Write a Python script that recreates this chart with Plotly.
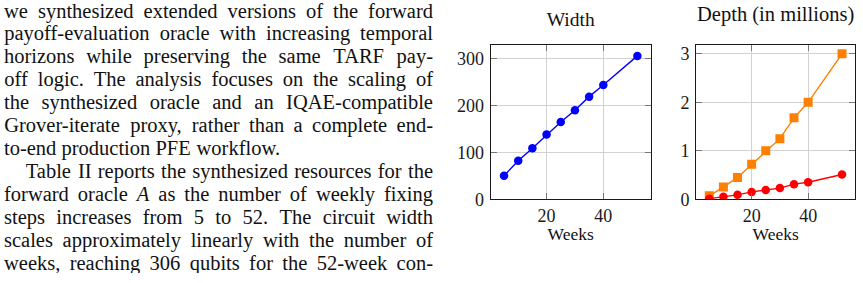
import plotly.graph_objects as go

# ---------------- data ----------------
weeks = [5, 10, 15, 20, 25, 30, 35, 40, 52]
width_qubits = [50, 82, 109, 138, 165, 190, 219, 244, 306]
depth_grover = [0.07, 0.25, 0.45, 0.72, 1.0, 1.25, 1.68, 2.0, 3.0]
depth_oracle = [0.01, 0.05, 0.09, 0.15, 0.19, 0.23, 0.31, 0.35, 0.51]
x_ticks = [20, 40]
width_ticks = [0, 100, 200, 300]
depth_ticks = [0, 1, 2, 3]

text_lines = [
    "we synthesized extended versions of the forward",
    "payoff-evaluation oracle with increasing temporal",
    "horizons while preserving the same TARF pay-",
    "off logic. The analysis focuses on the scaling of",
    "the synthesized oracle and an IQAE-compatible",
    "Grover-iterate proxy, rather than a complete end-",
    "to-end production PFE workflow.",
    "Table II reports the synthesized resources for the",
    "forward oracle <i>A</i> as the number of weekly fixing",
    "steps increases from 5 to 52. The circuit width",
    "scales approximately linearly with the number of",
    "weeks, reaching 306 qubits for the 52-week con-",
]
justified = [True, True, True, True, True, True, False, True, True, True, True, True]
indented = [False] * 7 + [True] + [False] * 4

W, H = 863, 283
SERIF = "Liberation Serif"

# Times-Roman advance widths (per 1000 em)
TW = {' ': 250, ',': 250, '-': 333, '.': 250, '(': 333, ')': 333,
      'A': 722, 'B': 667, 'C': 667, 'D': 722, 'E': 611, 'F': 556, 'G': 722, 'H': 722,
      'I': 333, 'J': 389, 'K': 722, 'L': 611, 'M': 889, 'N': 722, 'O': 722, 'P': 556,
      'Q': 722, 'R': 667, 'S': 556, 'T': 611, 'U': 722, 'V': 722, 'W': 944, 'X': 722,
      'Y': 722, 'Z': 611,
      'a': 444, 'b': 500, 'c': 444, 'd': 500, 'e': 444, 'f': 333, 'g': 500, 'h': 500,
      'i': 278, 'j': 278, 'k': 500, 'l': 278, 'm': 778, 'n': 500, 'o': 500, 'p': 500,
      'q': 500, 'r': 333, 's': 389, 't': 278, 'u': 500, 'v': 500, 'w': 722, 'x': 500,
      'y': 500, 'z': 444}


def word_w(word, fs):
    italic = word.startswith("<i>")
    raw = word.replace("<i>", "").replace("</i>", "")
    total = 0
    for ch in raw:
        if ch.isdigit():
            total += 500
        elif italic and ch == 'A':
            total += 611
        else:
            total += TW.get(ch, 500)
    return total / 1000.0 * fs


FS = 20.5
LEFT, RIGHT = 4.0, 433.0
INDENT = 21.0
BASE0, LSTEP = 20.0, 23.75

fig = go.Figure()

fig.add_trace(go.Scatter(x=weeks, y=width_qubits, mode="lines+markers",
                         line=dict(color="#0000ff", width=1.4),
                         marker=dict(symbol="circle", size=8.5, color="#0000ff"),
                         xaxis="x", yaxis="y", showlegend=False))
fig.add_trace(go.Scatter(x=weeks, y=depth_grover, mode="lines+markers",
                         line=dict(color="#ff8000", width=1.4),
                         marker=dict(symbol="square", size=9, color="#ff8000"),
                         xaxis="x2", yaxis="y2", showlegend=False))
fig.add_trace(go.Scatter(x=weeks, y=depth_oracle, mode="lines+markers",
                         line=dict(color="#ff0000", width=1.3),
                         marker=dict(symbol="circle", size=8.5, color="#ff0000"),
                         xaxis="x2", yaxis="y2", showlegend=False))

# ---- free text (paragraph, titles, axis labels) on a full-page pixel axis ----
tx, ty, tt, ts = [], [], [], []


def put(text, xc, baseline, size):
    tx.append(xc)
    ty.append(baseline - 0.35 * size)   # 'middle center' puts baseline 0.35em below y
    tt.append(text)
    ts.append(size)


put("Width", (490.7 + 650.7) / 2, 28.3, 19.5)
put("Depth (in millions)", (696 + 855.3) / 2, 23.3, 20.5)
put("Weeks", (490.7 + 650.7) / 2, 250.7, 17.5)
put("Weeks", (696 + 855.3) / 2, 250.7, 17.5)

for i, line in enumerate(text_lines):
    words = line.split(" ")
    start = LEFT + (INDENT if indented[i] else 0)
    widths = [word_w(w, FS) for w in words]
    if justified[i] and len(words) > 1:
        gap = (RIGHT - start - sum(widths)) / (len(words) - 1)
    else:
        gap = 0.25 * FS
    base = BASE0 + i * LSTEP
    x = start
    for w, ww in zip(words, widths):
        put(w, x + ww / 2, base, FS)
        x += ww + gap

fig.add_trace(go.Scatter(x=tx, y=ty, text=tt, mode="text", textposition="middle center",
                         textfont=dict(family=SERIF, size=ts, color="#111111"),
                         xaxis="x3", yaxis="y3", showlegend=False, hoverinfo="skip",
                         cliponaxis=True))

ydom = [1 - 206.5 / H, 1 - 46.3 / H]
axis_common = dict(showline=True, linecolor="#1a1a1a", linewidth=1, mirror="allticks",
                   ticks="inside", ticklen=6, tickcolor="#777777", tickwidth=1,
                   showgrid=True, gridcolor="#d2d2d2", gridwidth=1, zeroline=False,
                   tickfont=dict(family=SERIF, size=18, color="#1a1a1a"))

fig.update_layout(
    width=W, height=H, margin=dict(l=0, r=0, t=0, b=0),
    paper_bgcolor="white", plot_bgcolor="rgba(0,0,0,0)",
    xaxis=dict(domain=[490.7 / W, 650.7 / W], range=[0.3, 56.7], tickvals=x_ticks,
               ticklabelstandoff=0, anchor="y", **axis_common),
    yaxis=dict(domain=ydom, range=[0, 330], tickvals=width_ticks, anchor="x",
               ticklabelstandoff=2, **axis_common),
    xaxis2=dict(domain=[696 / W, 855.3 / W], range=[0.3, 56.7], tickvals=x_ticks,
                ticklabelstandoff=0, anchor="y2", **axis_common),
    yaxis2=dict(domain=ydom, range=[0, 3.19], tickvals=depth_ticks, anchor="x2",
                ticklabelstandoff=2, **axis_common),
    xaxis3=dict(domain=[0, 1], range=[0, W], visible=False, anchor="y3", fixedrange=True),
    yaxis3=dict(domain=[0, 1], range=[H, 0], visible=False, anchor="x3", fixedrange=True),
)

fig.write_html("out.html")
